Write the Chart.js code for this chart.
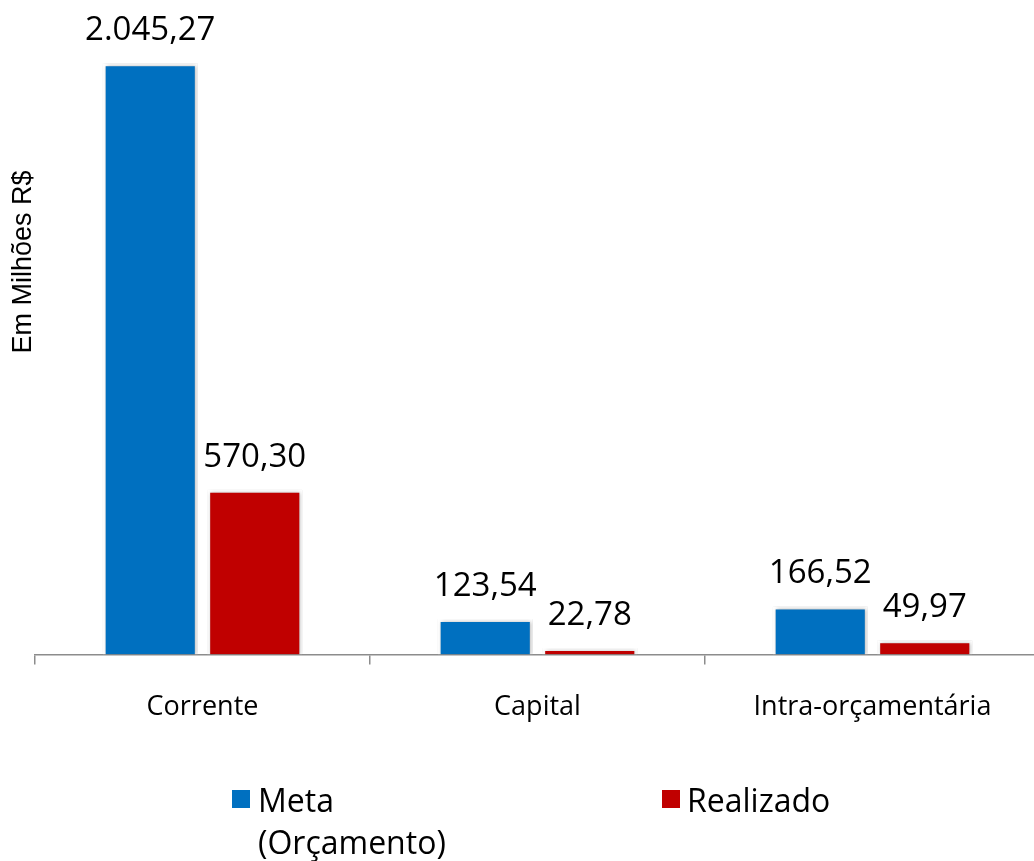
<!DOCTYPE html>
<html lang="pt-BR">
<head>
<meta charset="utf-8">
<title>Meta x Realizado</title>
<script src="https://cdn.jsdelivr.net/npm/chart.js@4/dist/chart.umd.min.js"></script>
<style>
  html, body { margin: 0; padding: 0; background: #fff; overflow: hidden; }
  #wrap { position: relative; width: 1045px; height: 751px; }
  #legend { position: absolute; left: 0; top: 0; width: 1034px; height: 861px; pointer-events: none;
    font-family: "Open Sans", sans-serif; font-size: 32px; color: #000; }
  .lg-box { position: absolute; width: 18px; height: 18px; }
  .lg-text { position: absolute; line-height: 42px; white-space: nowrap; }
</style>
</head>
<body>
<div id="wrap"><canvas id="chart"></canvas></div>
<div id="legend">
  <div class="lg-box" style="left:232px; top:790px; background:#0070C0"></div>
  <div class="lg-text" style="left:258px; top:779px">Meta<br>(Orçamento)</div>
  <div class="lg-box" style="left:662px; top:790px; background:#C00000"></div>
  <div class="lg-text" style="left:687px; top:779px">Realizado</div>
</div>
<script>
const categories = ["Corrente", "Capital", "Intra-orçamentária"];
const metaValues = [2045.27, 123.54, 166.52];
const realizadoValues = [570.30, 22.78, 49.97];
const seriesNames = ["Meta (Orçamento)", "Realizado"];
const seriesColors = ["#0070C0", "#C00000"];
const yTitle = "Em Milhões R$";

function formatBR(v) {
  const [intPart, dec] = v.toFixed(2).split(".");
  return intPart.replace(/\B(?=(\d{3})+(?!\d))/g, ".") + "," + dec;
}

const barShadow = {
  id: "barShadow",
  beforeDatasetsDraw(chart) {
    const ctx = chart.ctx;
    ctx.save();
    ctx.shadowColor = "rgba(0,0,0,0.28)";
    ctx.shadowBlur = 4;
    ctx.shadowOffsetX = 1;
    ctx.shadowOffsetY = 0;
  },
  afterDatasetsDraw(chart) {
    chart.ctx.restore();
  },
};

// value labels above the bars + the rotated unit caption on the left
const valueLabels = {
  id: "valueLabels",
  afterDraw(chart) {
    const ctx = chart.ctx;
    ctx.save();
    ctx.font = '33px "Open Sans", sans-serif';
    ctx.fillStyle = "#000";
    ctx.textAlign = "center";
    ctx.textBaseline = "alphabetic";
    chart.data.datasets.forEach((ds, i) => {
      chart.getDatasetMeta(i).data.forEach((bar, j) => {
        ctx.fillText(formatBR(ds.data[j]), bar.x, bar.y - 23);
      });
    });
    ctx.restore();

    ctx.save();
    ctx.font = '27px "Liberation Sans", sans-serif';
    ctx.fillStyle = "#000";
    ctx.textAlign = "center";
    ctx.textBaseline = "middle";
    ctx.translate(24, 262);
    ctx.rotate(-Math.PI / 2);
    ctx.fillText(yTitle, 0, 0);
    ctx.restore();
  },
};

new Chart(document.getElementById("chart"), {
  type: "bar",
  data: {
    labels: categories,
    datasets: [
      { label: seriesNames[0], data: metaValues, backgroundColor: seriesColors[0] },
      { label: seriesNames[1], data: realizadoValues, backgroundColor: seriesColors[1] },
    ],
  },
  options: {
    responsive: true,
    maintainAspectRatio: false,
    animation: false,
    layout: { padding: { left: 35, right: 5, top: 0, bottom: 0 } },
    datasets: {
      bar: {
        categoryPercentage: 0.624,
        barPercentage: 0.91,
        borderColor: "#fff",
        borderWidth: 3,
      },
    },
    plugins: {
      legend: { display: false },
      tooltip: { enabled: false },
    },
    scales: {
      x: {
        grid: { display: true, drawOnChartArea: false, drawTicks: true, tickLength: 10, color: "#8c8c8c", lineWidth: 1.5 },
        border: { display: true, color: "#8c8c8c", width: 1.5 },
        ticks: { color: "#000", padding: 27, font: { family: "Open Sans", size: 27 } },
      },
      y: {
        display: false,
        min: 0,
        max: 2264,
      },
    },
  },
  plugins: [barShadow, valueLabels],
});
</script>
</body>
</html>
